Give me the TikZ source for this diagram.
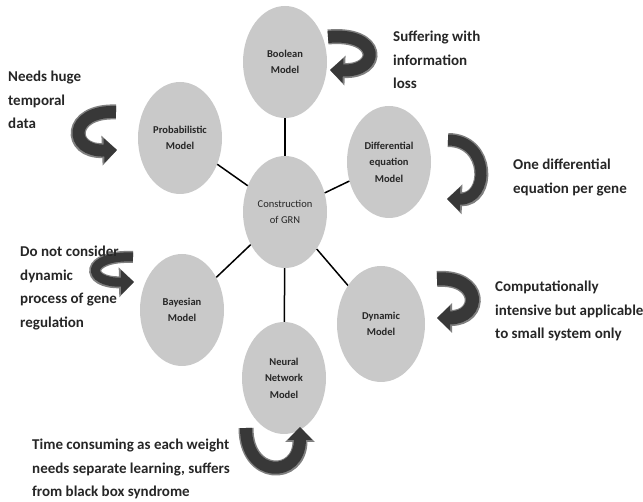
\documentclass[tikz,border=0pt]{standalone}
\usepackage{fontspec}
\setmainfont{Carlito}
\usetikzlibrary{shapes.geometric,arrows.meta}
\definecolor{ellgray}{HTML}{C9C9C9}
\definecolor{txtdark}{HTML}{262626}
\definecolor{arrdark}{HTML}{383838}
\definecolor{arredge}{HTML}{808080}
\tikzset{
  model/.style={ellipse, fill=ellgray, minimum width=84pt, minimum height=112pt, inner sep=0pt,
    align=center, text=txtdark, font=\fontsize{10.5}{16.5}\selectfont\bfseries},
  ann/.style={anchor=north west, inner sep=0pt, align=left, text=txtdark,
    font=\fontsize{15}{23.5}\selectfont\bfseries},
  spoke/.style={line width=1.5pt, black},
  curvearrow/.style={line width=#1, draw=arrdark, -{Triangle[length=13pt,width=24pt]},
    preaction={draw=arredge, line width=#1+3pt, -{Triangle[length=15pt,width=29pt]}}},
  curvearrow/.default=11pt
}
\begin{document}
\begin{tikzpicture}[x=1pt,y=-1pt]
\useasboundingbox (0,0) rectangle (643,502);
% ellipses
\node[model] (bool) at (285,62) {Boolean\\Model};
\node[model] (prob) at (180,138) {Probabilistic\\Model};
\node[model] (diff) at (389,162) {Differential\\equation\\Model};
\node[model, font=\fontsize{10.5}{16.5}\selectfont] (grn) at (285,212) {Construction\\of GRN};
\node[model] (bayes) at (182,310) {Bayesian\\Model};
\node[model, minimum width=88pt, minimum height=116pt] (dyn) at (381,324) {Dynamic\\Model};
\node[model] (nn) at (284,378) {Neural\\Network\\Model};
% spokes
\draw[spoke] (grn) -- (bool);
\draw[spoke] (grn) -- (prob);
\draw[spoke] (grn) -- (diff);
\draw[spoke] (grn) -- (bayes);
\draw[spoke] (grn) -- (dyn);
\draw[spoke] (grn) -- (nn);
% curved arrows
\draw[curvearrow=12pt] (328,37) .. controls (381,32) and (381,72) .. (330,70);
\draw[curvearrow=12pt] (116,112) .. controls (68,110) and (68,152) .. (117,150);
\draw[curvearrow=11pt] (448,140) .. controls (490,140) and (490,200) .. (447,199);
\draw[curvearrow=9pt] (133,257) .. controls (85,255) and (85,283) .. (134,282);
\draw[curvearrow=13pt] (437,279) .. controls (482,276) and (482,318) .. (437,318);
\draw[curvearrow=12pt] (246,428) .. controls (246,479) and (300,479) .. (300,427);
% annotations
\node[ann] (a1) at (393,31) {Suffering with\\information\\loss};
\node[ann] (a2) at (8,71) {Needs huge\\temporal\\data};
\node[ann] (a3) at (513,159) {One differential\\equation per gene};
\node[ann] (a4) at (20,246) {Do not consider\\dynamic\\process of gene\\regulation};
\node[ann] (a5) at (495,281) {Computationally\\intensive but applicable\\to small system only};
\node[ann] (a6) at (32,439) {Time consuming as each weight\\needs separate learning, suffers\\from black box syndrome};
\end{tikzpicture}
\end{document}
